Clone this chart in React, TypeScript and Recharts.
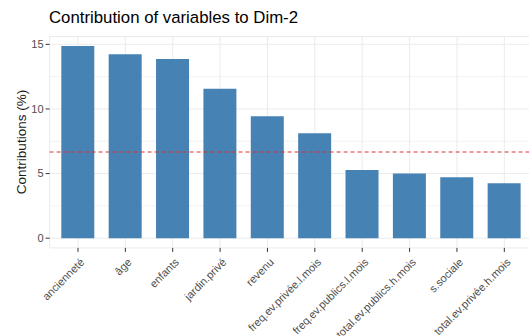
import React from "react";
import {
  BarChart,
  Bar,
  XAxis,
  YAxis,
  CartesianGrid,
  ReferenceLine,
} from "recharts";

const variables = [
  "ancienneté",
  "âge",
  "enfants",
  "jardin.privé",
  "revenu",
  "freq.ev.privée.l.mois",
  "freq.ev.publics.l.mois",
  "total.ev.publics.h.mois",
  "s.sociale",
  "total.ev.privée.h.mois",
];
const contributions = [14.87, 14.23, 13.87, 11.57, 9.43, 8.12, 5.28, 5.0, 4.72, 4.25];
const expectedContribution = 6.67;
const yTicks = [0, 5, 10, 15];
const minorTicks = [2.5, 7.5, 12.5];

const FONT = "'Liberation Sans', Arial, sans-serif";

const data = variables.map((name, i) => ({ name, contrib: contributions[i] }));

function XTick(props: any) {
  const { x, y, payload } = props;
  return (
    <g transform={`translate(${x + 7},${y + 9}) rotate(-45)`}>
      <text textAnchor="end" fontSize={11} fill="#4d4d4d" fontFamily={FONT}>
        {payload.value}
      </text>
    </g>
  );
}

export default function App() {
  return (
    <div
      style={{
        position: "absolute",
        left: 0,
        top: 0,
        width: 529,
        height: 336,
        overflow: "hidden",
        background: "#fff",
        fontFamily: FONT,
      }}
    >
      <div
        style={{
          position: "absolute",
          left: 49,
          top: 8,
          fontSize: 16.8,
          color: "#000",
          whiteSpace: "nowrap",
        }}
      >
        Contribution of variables to Dim-2
      </div>
      <div
        style={{
          position: "absolute",
          left: 21,
          top: 142,
          transform: "translate(-50%, -50%) rotate(-90deg)",
          fontSize: 13.5,
          color: "#1a1a1a",
          whiteSpace: "nowrap",
        }}
      >
        Contributions (%)
      </div>
      <BarChart
        width={534}
        height={336}
        data={data}
        margin={{ top: 36.6, right: 1.3, left: 0, bottom: 0 }}
        barCategoryGap={0}
      >
        <CartesianGrid stroke="#f3f3f3" vertical={false} horizontalValues={minorTicks} />
        <CartesianGrid stroke="#ebebeb" strokeWidth={1} />
        <XAxis
          dataKey="name"
          interval={0}
          padding={{ left: 4.7, right: 4.7 }}
          axisLine={false}
          tickLine={{ stroke: "#333" }}
          tickSize={4}
          tickMargin={2}
          height={88.1}
          tick={<XTick />}
        />
        <YAxis
          domain={[-0.75, 15.6]}
          ticks={yTicks}
          allowDataOverflow
          width={49.6}
          axisLine={false}
          tickLine={{ stroke: "#333" }}
          tickSize={4}
          tickMargin={2}
          tick={{ fontSize: 11, fill: "#4d4d4d", fontFamily: FONT }}
        />
        <Bar
          dataKey="contrib"
          fill="#4682B4"
          barSize={33}
          isAnimationActive={false}
        />
        <ReferenceLine
          y={expectedContribution}
          stroke="#e0302f"
          strokeDasharray="4 3"
          strokeWidth={1}
        />
      </BarChart>
    </div>
  );
}
